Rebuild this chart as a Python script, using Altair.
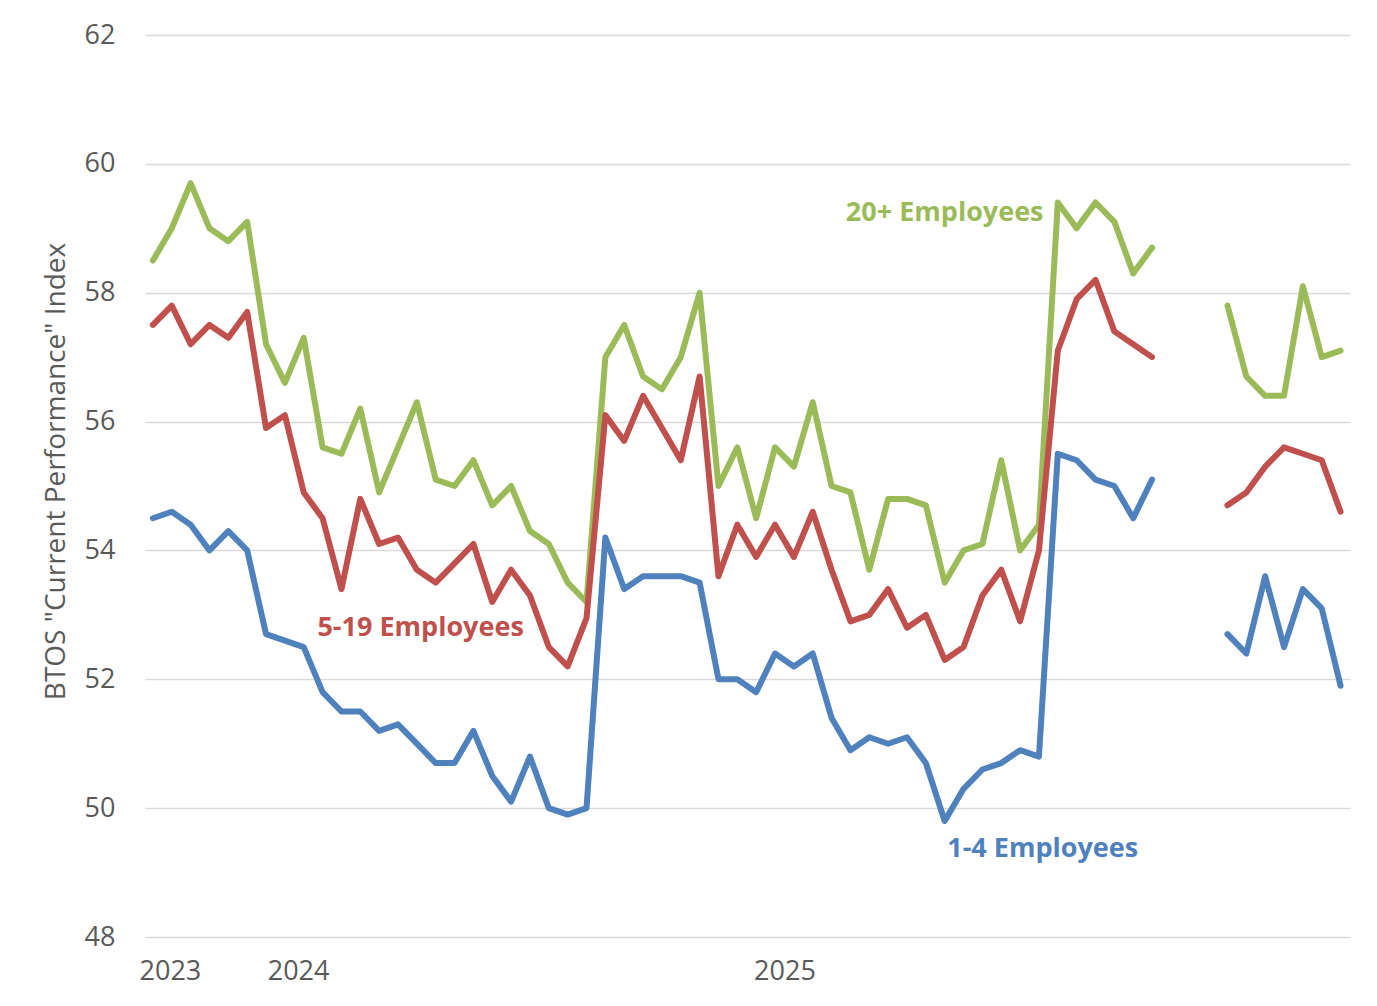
import altair as alt
import pandas as pd

# ---- data ----
idx = list(range(64))

green = [58.5, 59.0, 59.7, 59.0, 58.8, 59.1, 57.2, 56.6, 57.3, 55.6,
         55.5, 56.2, 54.9, 55.6, 56.3, 55.1, 55.0, 55.4, 54.7, 55.0,
         54.3, 54.1, 53.5, 53.2, 57.0, 57.5, 56.7, 56.5, 57.0, 58.0,
         55.0, 55.6, 54.5, 55.6, 55.3, 56.3, 55.0, 54.9, 53.7, 54.8,
         54.8, 54.7, 53.5, 54.0, 54.1, 55.4, 54.0, 54.4, 59.4, 59.0,
         59.4, 59.1, 58.3, 58.7, None, None, None, 57.8, 56.7, 56.4,
         56.4, 58.1, 57.0, 57.1]

red = [57.5, 57.8, 57.2, 57.5, 57.3, 57.7, 55.9, 56.1, 54.9, 54.5,
       53.4, 54.8, 54.1, 54.2, 53.7, 53.5, 53.8, 54.1, 53.2, 53.7,
       53.3, 52.5, 52.2, 52.95, 56.1, 55.7, 56.4, 55.9, 55.4, 56.7,
       53.6, 54.4, 53.9, 54.4, 53.9, 54.6, 53.7, 52.9, 53.0, 53.4,
       52.8, 53.0, 52.3, 52.5, 53.3, 53.7, 52.9, 54.0, 57.1, 57.9,
       58.2, 57.4, 57.2, 57.0, None, None, None, 54.7, 54.9, 55.3,
       55.6, 55.5, 55.4, 54.6]

blue = [54.5, 54.6, 54.4, 54.0, 54.3, 54.0, 52.7, 52.6, 52.5, 51.8,
        51.5, 51.5, 51.2, 51.3, 51.0, 50.7, 50.7, 51.2, 50.5, 50.1,
        50.8, 50.0, 49.9, 50.0, 54.2, 53.4, 53.6, 53.6, 53.6, 53.5,
        52.0, 52.0, 51.8, 52.4, 52.2, 52.4, 51.4, 50.9, 51.1, 51.0,
        51.1, 50.7, 49.8, 50.3, 50.6, 50.7, 50.9, 50.8, 55.5, 55.4,
        55.1, 55.0, 54.5, 55.1, None, None, None, 52.7, 52.4, 53.6,
        52.5, 53.4, 53.1, 51.9]

series_names = ["20+ Employees", "5-19 Employees", "1-4 Employees"]
series_colors = ["#9BBB59", "#C0504D", "#4F81BD"]

year_labels = ["2023", "2024", "2025"]
year_positions = [0.9, 7.7, 33.5]

label_x = [42.0, 14.2, 47.2]
label_y = [59.24, 52.8, 49.37]

# ---- build tables ----
rows = []
for name, vals in zip(series_names, [green, red, blue]):
    seg = 0
    for i, v in zip(idx, vals):
        if v is None:
            seg += 1
            continue
        rows.append({"i": i, "value": v, "series": name, "seg": f"{name}-{seg}"})
df = pd.DataFrame(rows)

labels_df = pd.DataFrame({"series": series_names, "x": label_x, "y": label_y})

label_expr = " : ".join(
    [f"abs(datum.value - {p}) < 0.01 ? '{t}'" for p, t in zip(year_positions, year_labels)]
) + " : ''"

FONT = "Open Sans"

xscale = alt.Scale(domain=[-0.42, 63.5], nice=False, zero=False)
yscale = alt.Scale(domain=[48, 62], nice=False, zero=False)
cscale = alt.Scale(domain=series_names, range=series_colors)

lines = alt.Chart(df).mark_line(strokeWidth=6, strokeJoin="round", strokeCap="round").encode(
    x=alt.X("i:Q", scale=xscale,
            axis=alt.Axis(values=year_positions, labelExpr=label_expr, title=None,
                          grid=False, ticks=False, domain=False,
                          labelFontSize=27, labelColor="#595959", labelFont=FONT,
                          labelPadding=21)),
    y=alt.Y("value:Q", scale=yscale,
            axis=alt.Axis(values=list(range(48, 63, 2)), format="d",
                          title='BTOS "Current Performance" Index',
                          grid=True, gridColor="#d9d9d9", gridWidth=1.5,
                          ticks=False, domain=False,
                          labelFontSize=27, labelColor="#595959", labelFont=FONT,
                          labelPadding=30,
                          titleFontSize=28, titleFontWeight="normal", titleColor="#595959",
                          titleFont=FONT, titlePadding=14, titleY=436)),
    color=alt.Color("series:N", scale=cscale, legend=None),
    detail="seg:N",
)

texts = alt.Chart(labels_df).mark_text(fontSize=27, fontWeight="bold", font=FONT,
                                       align="center", baseline="middle").encode(
    x=alt.X("x:Q", scale=xscale),
    y=alt.Y("y:Q", scale=yscale),
    text="series:N",
    color=alt.Color("series:N", scale=cscale, legend=None),
)

chart = alt.layer(lines, texts).properties(
    width=1205, height=902,
    autosize=alt.AutoSizeParams(type="none"),
    padding={"left": 137, "top": 27, "right": 16, "bottom": 60},
).configure(background="white").configure_view(stroke="transparent", strokeWidth=0)

chart.save("out.html", embed_options={"renderer": "svg", "actions": False})
